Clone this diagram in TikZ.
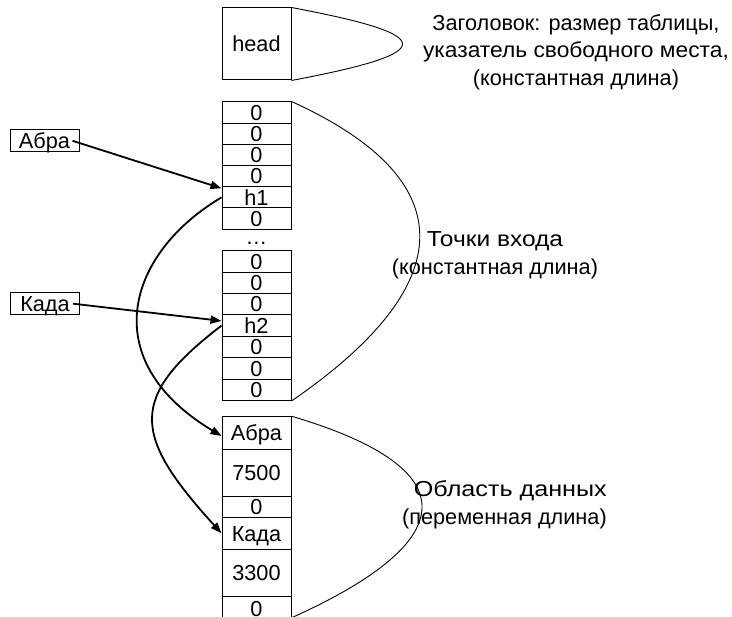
\documentclass[tikz,border=0pt]{standalone}
\usepackage{fontspec}
\setmainfont{Liberation Sans}
\newfontfamily\widerA[FakeStretch=1.05]{Liberation Sans}
\newfontfamily\widerB[FakeStretch=1.13]{Liberation Sans}
\newfontfamily\widerC[FakeStretch=1.16]{Liberation Sans}
\usetikzlibrary{arrows.meta}
\begin{document}
\begin{tikzpicture}[x=1pt,y=-1pt,
  font=\fontsize{21.7}{27.5}\selectfont,
  cell/.style={draw,line width=1pt,minimum width=69pt,inner sep=0pt,
               text height=15.5pt,text depth=0pt},
  keybox/.style={draw,line width=1pt,minimum width=69pt,minimum height=21.7pt,
                 inner sep=0pt,text height=15.5pt,text depth=0pt},
  note/.style={inner sep=0pt,align=center},
  brace/.style={line width=0.9pt},
  link/.style={line width=1.8pt,-{Triangle[length=11pt,width=8pt]}}]
\useasboundingbox (0,0) rectangle (732,617);

% header block
\node[cell,minimum height=72pt] (head) at (256.5,44) {head};

% entry points table, upper part
\node[cell,minimum height=21.2pt] (t1) at (256.5,112.6) {0};
\node[cell,minimum height=21.2pt] (t2) at (256.5,133.8) {0};
\node[cell,minimum height=21.2pt] (t3) at (256.5,155.0) {0};
\node[cell,minimum height=21.2pt] (t4) at (256.5,176.2) {0};
\node[cell,minimum height=21.2pt] (h1) at (256.5,197.4) {h1};
\node[cell,minimum height=21.2pt] (t6) at (256.5,218.6) {0};
\node[inner sep=0pt,anchor=base,text height=3pt,text depth=0pt] (dots) at (256.5,245) {…};

% entry points table, lower part
\node[cell,minimum height=21.4pt] (b1) at (256.5,261.4) {0};
\node[cell,minimum height=21.4pt] (b2) at (256.5,282.8) {0};
\node[cell,minimum height=21.4pt] (b3) at (256.5,304.2) {0};
\node[cell,minimum height=21.4pt] (h2) at (256.5,325.6) {h2};
\node[cell,minimum height=21.4pt] (b5) at (256.5,347.0) {0};
\node[cell,minimum height=21.4pt] (b6) at (256.5,368.4) {0};
\node[cell,minimum height=21.4pt] (b7) at (256.5,389.8) {0};

% data area
\node[cell,minimum height=32.6pt] (dabra) at (256.5,433.0) {Абра};
\node[cell,minimum height=47.4pt] (d2)    at (256.5,473.0) {7500};
\node[cell,minimum height=20.6pt] (d3)    at (256.5,507.0) {0};
\node[cell,minimum height=32.0pt] (dkada) at (256.5,533.3) {Када};
\node[cell,minimum height=47.4pt] (d5)    at (256.5,573.0) {3300};
\node[cell,minimum height=23.6pt] (d6)    at (256.5,608.5) {0};

% keys
\node[keybox] (abra) at (44.5,140.8) {Абра};
\node[keybox] (kada) at (45,303.7) {Када};

% braces
\draw[brace] (head.north east) .. controls +(148,28) and +(148,-28) .. (head.south east);
\draw[brace] (t1.north east) .. controls +(176,80) and +(166,-114) .. (b7.south east);
\draw[brace] (dabra.north east) .. controls +(179,53) and +(169,-76) .. ([yshift=3pt]d6.south east);

% descriptions
\node[note,anchor=north] (hdesc) at (576,14)
  {Заголовок: размер таблицы,\\{\widerA указатель свободного места,}\\(константная длина)};
\node[note,anchor=north] (edesc) at (495,231.8)
  {{\widerB Точки входа}\\(константная длина)};
\node[note,align=right,anchor=north east] (ddesc) at (607,480.7)
  {{\widerC Область данных}\\(переменная длина)};

% key to entry arrows
\draw[link] ([xshift=-7pt]abra.east) -- ([yshift=-2pt]h1.north west);
\draw[link] ([xshift=-7pt]kada.east) -- ([yshift=-6.5pt]h2.north west);

% entry to data arrows
\draw[link] (h1.west) .. controls +(-93,55) and +(-128,-77) .. ([yshift=-3pt]dabra.west);
\draw[link] (h2.west) .. controls +(-94,72) and +(-89,-98) .. (dkada.west);
\end{tikzpicture}
\end{document}
